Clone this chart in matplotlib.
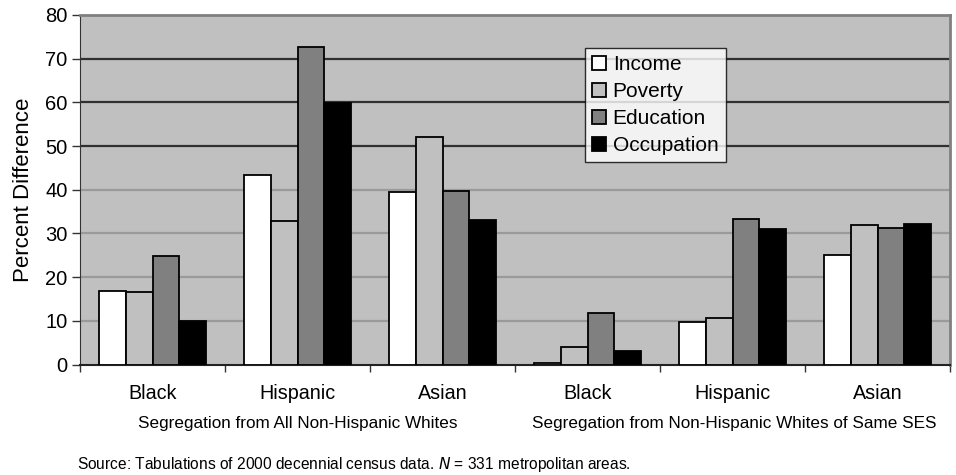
import matplotlib
matplotlib.use("Agg")
import matplotlib.pyplot as plt
import numpy as np

plt.rcParams['font.family'] = ['Liberation Sans', 'DejaVu Sans']

groups = ["Black", "Hispanic", "Asian", "Black", "Hispanic", "Asian"]
panel_labels = ["Segregation from All Non-Hispanic Whites",
                "Segregation from Non-Hispanic Whites of Same SES"]
series = ["Income", "Poverty", "Education", "Occupation"]
income = [16.8, 43.4, 39.4, 0.4, 9.8, 25.1]
poverty = [16.6, 32.8, 52.1, 3.9, 10.6, 31.9]
education = [24.9, 72.6, 39.8, 11.9, 33.3, 31.2]
occupation = [10.0, 59.9, 33.1, 3.1, 31.1, 32.2]
colors = ["#FFFFFF", "#C0C0C0", "#808080", "#000000"]
yticks = [0, 10, 20, 30, 40, 50, 60, 70, 80]

fig = plt.figure(figsize=(9.56, 4.75), dpi=100)
ax = fig.add_axes([80/956, 110.5/475, 870/956, 349.5/475])
ax.set_facecolor("#C0C0C0")

x = np.arange(len(groups))
bw = 0.183
vals = [income, poverty, education, occupation]
for i, (name, v, c) in enumerate(zip(series, vals, colors)):
    ax.bar(x + (i - 1.5) * bw, v, bw, color=c, edgecolor="black",
           linewidth=1.3, label=name, zorder=3)

ax.set_xlim(-0.5, len(groups) - 0.5)
ax.set_ylim(0, 80)
ax.set_yticks(yticks)
ax.set_yticklabels([str(t) for t in yticks], fontsize=14.5)
for t in yticks[1:-1]:
    col = "#303030" if t >= 50 else "#9a9a9a"
    ax.axhline(t, color=col, linewidth=1.6, zorder=1)

ax.set_xticks(np.arange(-0.5, len(groups), 1.0))
ax.set_xticklabels([])
ax.tick_params(axis='x', direction='out', length=5, width=1, color="#333333")
ax.tick_params(axis='y', direction='out', length=6, width=1, color="#333333", pad=3)

for sp in ["top", "right"]:
    ax.spines[sp].set_color("#808080")
    ax.spines[sp].set_linewidth(2)
ax.spines["left"].set_color("#333333")
ax.spines["bottom"].set_color("#222222")
ax.spines["bottom"].set_linewidth(1.5)

for xi, g in zip(x, groups):
    ax.text(xi, -6.75, g, ha="center", va="center", fontsize=14.2, clip_on=False)
ax.text(1.0, -13.6, panel_labels[0], ha="center", va="center", fontsize=12.3, clip_on=False)
ax.text(4.01, -13.6, panel_labels[1], ha="center", va="center", fontsize=12.3, clip_on=False)

ax.set_ylabel("Percent Difference", fontsize=16, labelpad=8)

leg = ax.legend(loc="upper left", fontsize=15, frameon=True, fancybox=False,
                edgecolor="black", handlelength=0.68, handleheight=0.68,
                handletextpad=0.3, labelspacing=0.38, borderpad=0.35,
                borderaxespad=0)
leg.set_bbox_to_anchor((585/956, 1 - 48/475), transform=fig.transFigure)
leg.get_frame().set_linewidth(1.0)
leg.set_zorder(5)

fig.text(77/956, 1 - 464.5/475,
         "Source: Tabulations of 2000 decennial census data. $\\it{N}$ = 331 metropolitan areas.",
         ha="left", va="center", fontsize=11.2)

fig.savefig("out.png", dpi=100)
